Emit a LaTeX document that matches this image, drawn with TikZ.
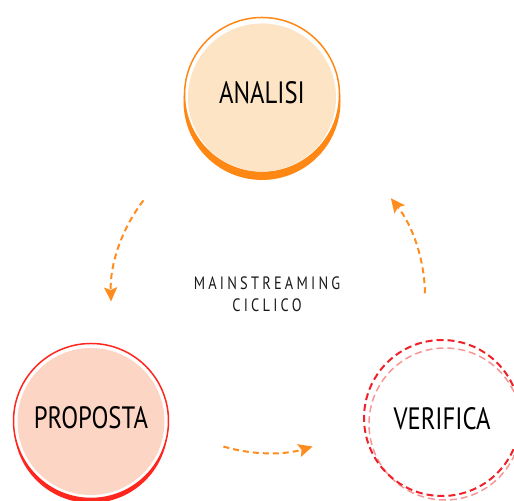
\documentclass[tikz,border=0pt]{standalone}
\usepackage{fontspec}
\usetikzlibrary{arrows.meta,backgrounds}
\newfontfamily\labelfont[FakeStretch=0.8]{PT Sans}
\newfontfamily\hubfont[FakeStretch=0.8,LetterSpace=18]{PT Sans}
\definecolor{analisiedge}{RGB}{255,136,20}
\definecolor{analisifill}{RGB}{253,228,196}
\definecolor{propostaedge}{RGB}{255,38,30}
\definecolor{propostafill}{RGB}{252,213,196}
\definecolor{verificaedge}{RGB}{238,34,40}
\definecolor{verificalight}{RGB}{246,150,150}
\definecolor{flowcol}{RGB}{255,140,30}
\definecolor{hubtext}{RGB}{25,25,25}

\begin{document}
\begin{tikzpicture}[x=1bp,y=1bp]
    \tikzset{bubble/.style = {inner sep=0pt, text=black, font=\labelfont\fontsize{31}{36}\selectfont}}
    \tikzset{flow/.style = {draw=flowcol, line width=2bp, dash pattern=on 6bp off 4bp,
        -{Stealth[length=14bp,width=13bp,inset=2.5bp]}}}
    \useasboundingbox (0,0) rectangle (514,501);
    % vertices
    \node[bubble] (analisi) at (262,408.5) {ANALISI};
    \node[bubble] (proposta) at (91,83) {PROPOSTA};
    \node[bubble] (verifica) at (442,82) {VERIFICA};
    \node[font=\hubfont\fontsize{18}{22}\selectfont, text=hubtext, align=center] (ciclo) at (267,206.5) {MAINSTREAMING\\CICLICO};
    \coordinate (hub) at (268,205);
    % discs
    \begin{scope}[on background layer]
        \fill[analisiedge] ([yshift=-9]analisi) circle (78.5);
        \filldraw[fill=white, draw=analisiedge, line width=1.5bp] ([yshift=-2.5]analisi) circle (77.5);
        \fill[analisifill] ([yshift=-5]analisi) circle (74);
        \fill[propostaedge] ([yshift=-8]proposta) circle (77);
        \filldraw[fill=white, draw=propostaedge, line width=1.5bp] ([yshift=-3]proposta) circle (77.5);
        \fill[propostafill] ([yshift=-3.5]proposta) circle (73.5);
        \draw[verificalight, line width=1.5bp, dash pattern=on 7bp off 4bp] ([shift={(3,-5)}]verifica) circle (76);
        \draw[verificaedge, line width=2bp, dash pattern=on 7bp off 4bp] ([yshift=1]verifica) circle (78);
    \end{scope}
    %edges
    \draw[flow] ([shift={(142.5:157)}]hub) arc[start angle=142.5, end angle=182, radius=157];
    \draw[flow] ([shift={(1:157)}]hub) arc[start angle=1, end angle=38.5, radius=157];
    \draw[flow] ([shift={(253.5:157)}]hub) arc[start angle=253.5, end angle=286.5, radius=157];
\end{tikzpicture}
\end{document}
